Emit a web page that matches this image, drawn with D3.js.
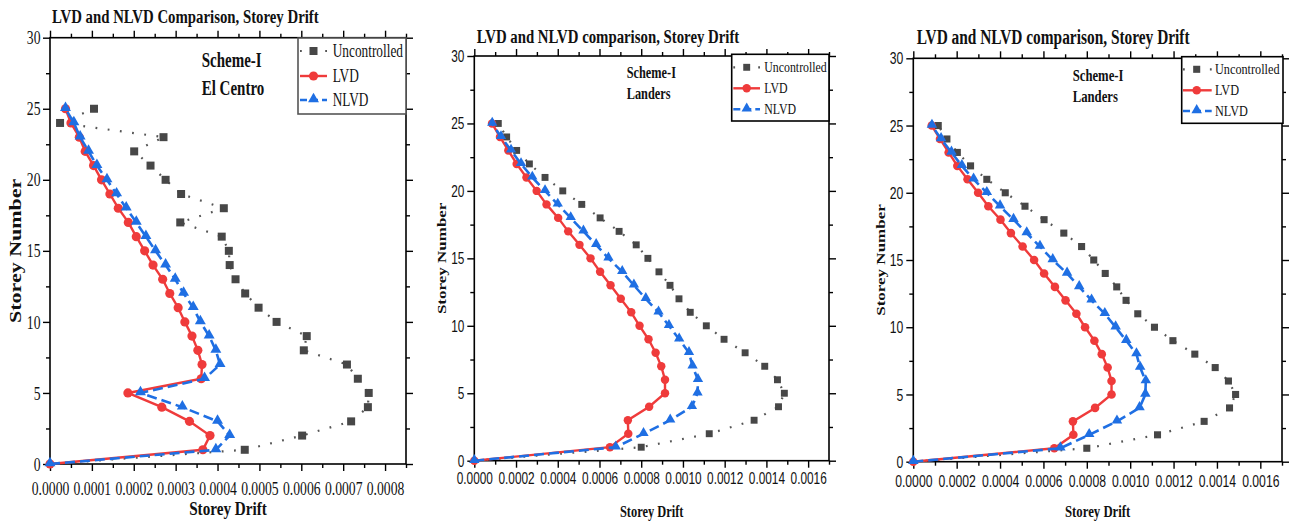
<!DOCTYPE html>
<html>
<head>
<meta charset="utf-8">
<script src="https://cdn.jsdelivr.net/npm/d3@7"></script>
<style>
  body { margin: 0; background: #fff; }
  svg { display: block; }
</style>
</head>
<body>
<svg id="chart" width="1289" height="523"></svg>
<script>
// ---- data -------------------------------------------------------------
const storeys = [0, 1, 2, 3, 4, 5, 6, 7, 8, 9, 10, 11, 12, 13, 14, 15, 16, 17, 18, 19, 20, 21, 22, 23, 24, 25];

// El Centro, Scheme-I (storey drift, storey 0 .. 25)
const elCentroUncontrolled = [0, 0.000465, 0.000602, 0.000719, 0.000759, 0.000761, 0.000735, 0.000709, 0.000606, 0.000613, 0.000541, 0.000498, 0.000466, 0.000443, 0.000429, 0.000427, 0.000410, 0.000311, 0.000415, 0.000313, 0.000276, 0.000240, 0.000201, 0.000271, 0.000024, 0.000105];
const elCentroLVD = [0, 0.000365, 0.000382, 0.000333, 0.000267, 0.000186, 0.000361, 0.000363, 0.000353, 0.000339, 0.000322, 0.000306, 0.000286, 0.000269, 0.000246, 0.000226, 0.000206, 0.000187, 0.000163, 0.000143, 0.000123, 0.000104, 0.000084, 0.000070, 0.000050, 0.000037];
const elCentroNLVD = [0, 0.000396, 0.000429, 0.000400, 0.000316, 0.000216, 0.000369, 0.000406, 0.000396, 0.000380, 0.000359, 0.000342, 0.000319, 0.000299, 0.000276, 0.000252, 0.000229, 0.000206, 0.000182, 0.000159, 0.000136, 0.000112, 0.000092, 0.000072, 0.000057, 0.000037];

// Landers, Scheme-I
const landersUncontrolled = [0, 0.000800, 0.001126, 0.001341, 0.001458, 0.001486, 0.001453, 0.001392, 0.001298, 0.001197, 0.001112, 0.001035, 0.000981, 0.000938, 0.000885, 0.000832, 0.000776, 0.000694, 0.000603, 0.000515, 0.000424, 0.000339, 0.000264, 0.000203, 0.000155, 0.000115];
const landersLVD = [0, 0.000650, 0.000738, 0.000736, 0.000838, 0.000914, 0.000914, 0.000896, 0.000869, 0.000835, 0.000792, 0.000752, 0.000702, 0.000653, 0.000603, 0.000557, 0.000504, 0.000450, 0.000402, 0.000346, 0.000299, 0.000250, 0.000203, 0.000163, 0.000123, 0.000085];
const landersNLVD = [0, 0.000678, 0.000811, 0.000939, 0.001043, 0.001070, 0.001072, 0.001046, 0.001029, 0.000982, 0.000933, 0.000883, 0.000822, 0.000765, 0.000709, 0.000643, 0.000584, 0.000523, 0.000462, 0.000400, 0.000339, 0.000278, 0.000224, 0.000176, 0.000128, 0.000086];

const seriesNames = ["Uncontrolled", "LVD", "NLVD"];

// tick labels
const xTicksElCentro = [0, 0.0001, 0.0002, 0.0003, 0.0004, 0.0005, 0.0006, 0.0007, 0.0008];
const xTicksLanders = [0, 0.0002, 0.0004, 0.0006, 0.0008, 0.0010, 0.0012, 0.0014, 0.0016];
const yTicks = [0, 5, 10, 15, 20, 25, 30];
const yMinorTicks = [2.5, 7.5, 12.5, 17.5, 22.5, 27.5];

// ---- styling ----------------------------------------------------------
const SERIF = "'Liberation Serif', 'Times New Roman', serif";
const SANS = "'Liberation Sans', Arial, sans-serif";
const RED = "#EF3B3B";
const BLUE = "#1F6FE3";
const GREY = "#474747";

const svg = d3.select("#chart");
svg.append("rect").attr("width", 1289).attr("height", 523).attr("fill", "#fff");

// text drawn with a horizontal squeeze (narrow lettering)
function label(g, str, x, y, o) {
  let tf = `translate(${x},${y}) scale(${o.sx},1)`;
  if (o.rotate) tf += ` rotate(${o.rotate})`;
  return g.append("text")
    .text(str)
    .attr("font-family", o.family)
    .attr("font-size", o.size)
    .attr("font-weight", o.bold ? "bold" : "normal")
    .attr("text-anchor", o.anchor || "start")
    .attr("fill", "#111")
    .attr("transform", tf);
}

const fmt = d3.format(".4f");

function drawPanel(cfg) {
  const g = svg.append("g");
  const x = d3.scaleLinear().domain([0, cfg.xMax]).range([cfg.left, cfg.right]);
  const y = d3.scaleLinear().domain([0, 30]).range([cfg.bottom, cfg.top]);
  const xMinor = d3.range(cfg.xMinorStep, cfg.xMax + 1e-12, cfg.xMinorStep)
    .filter(v => !cfg.xTicks.some(t => Math.abs(t - v) < 1e-12));

  const MAJ = 7, MIN = 4;
  const styleTicks = sel => {
    sel.select(".domain").remove();
    sel.selectAll(".tick line").attr("stroke", "#000").attr("stroke-width", 1.4);
  };

  // bottom
  const gb = g.append("g").attr("transform", `translate(0,${cfg.bottom})`)
    .call(d3.axisBottom(x).tickValues(cfg.xTicks).tickSize(MAJ).tickSizeOuter(0).tickFormat(fmt));
  styleTicks(gb);
  gb.selectAll(".tick text")
    .attr("y", null).attr("dy", null)
    .attr("fill", "#111")
    .attr("font-family", cfg.tickFamily).attr("font-size", cfg.tickSize)
    .attr("transform", `translate(0,${cfg.xLabelOffset}) scale(${cfg.tickSx},1)`);
  g.append("g").attr("transform", `translate(0,${cfg.bottom})`)
    .call(d3.axisBottom(x).tickValues(xMinor).tickSize(MIN).tickSizeOuter(0).tickFormat(""))
    .call(styleTicks);

  // top (mirror)
  g.append("g").attr("transform", `translate(0,${cfg.top})`)
    .call(d3.axisTop(x).tickValues(cfg.xTicks).tickSize(MAJ).tickSizeOuter(0).tickFormat(""))
    .call(styleTicks);
  g.append("g").attr("transform", `translate(0,${cfg.top})`)
    .call(d3.axisTop(x).tickValues(xMinor).tickSize(MIN).tickSizeOuter(0).tickFormat(""))
    .call(styleTicks);

  // left
  const gl = g.append("g").attr("transform", `translate(${cfg.left},0)`)
    .call(d3.axisLeft(y).tickValues(yTicks).tickSize(MAJ).tickSizeOuter(0).tickFormat(d3.format("d")));
  styleTicks(gl);
  gl.selectAll(".tick text")
    .attr("x", null).attr("dy", "0.34em")
    .attr("fill", "#111")
    .attr("font-family", cfg.tickFamily).attr("font-size", cfg.tickSize)
    .attr("transform", `translate(${-cfg.yLabelGap},0) scale(${cfg.tickSx},1)`);
  g.append("g").attr("transform", `translate(${cfg.left},0)`)
    .call(d3.axisLeft(y).tickValues(yMinorTicks).tickSize(MIN).tickSizeOuter(0).tickFormat(""))
    .call(styleTicks);

  // right (mirror)
  g.append("g").attr("transform", `translate(${cfg.right},0)`)
    .call(d3.axisRight(y).tickValues(yTicks).tickSize(MAJ).tickSizeOuter(0).tickFormat(""))
    .call(styleTicks);
  g.append("g").attr("transform", `translate(${cfg.right},0)`)
    .call(d3.axisRight(y).tickValues(yMinorTicks).tickSize(MIN).tickSizeOuter(0).tickFormat(""))
    .call(styleTicks);

  // frame
  g.append("rect")
    .attr("x", cfg.left).attr("y", cfg.top)
    .attr("width", cfg.right - cfg.left).attr("height", cfg.bottom - cfg.top)
    .attr("fill", "none").attr("stroke", "#000").attr("stroke-width", 1.6);

  // series
  const pts = vals => storeys.map((s, i) => ({ s, v: vals[i] }));
  const line = d3.line().x(d => x(d.v)).y(d => y(d.s));
  const plot = g.append("g");

  const unc = pts(cfg.data[0]);
  plot.append("path").datum(unc).attr("d", line)
    .attr("fill", "none").attr("stroke", "#555").attr("stroke-width", 2.2)
    .attr("stroke-dasharray", "1.8,10.5");
  plot.selectAll(".sq").data(unc.slice(1)).join("path")
    .attr("d", d3.symbol(d3.symbolSquare, cfg.sqSize))
    .attr("transform", d => `translate(${x(d.v)},${y(d.s)})`)
    .attr("fill", GREY);

  const lvd = pts(cfg.data[1]);
  plot.append("path").datum(lvd).attr("d", line)
    .attr("fill", "none").attr("stroke", RED).attr("stroke-width", 2.4);
  plot.selectAll(".ci").data(lvd).join("path")
    .attr("d", d3.symbol(d3.symbolCircle, cfg.ciSize))
    .attr("transform", d => `translate(${x(d.v)},${y(d.s)})`)
    .attr("fill", RED);

  const nlvd = pts(cfg.data[2]);
  plot.append("path").datum(nlvd).attr("d", line)
    .attr("fill", "none").attr("stroke", BLUE).attr("stroke-width", 2.6)
    .attr("stroke-dasharray", "10,5");
  plot.selectAll(".tr").data(nlvd).join("path")
    .attr("d", d3.symbol(d3.symbolTriangle, cfg.trSize))
    .attr("transform", d => `translate(${x(d.v)},${y(d.s) - 0.8})`)
    .attr("fill", BLUE);

  // legend
  const L = cfg.legend;
  const lg = g.append("g");
  lg.append("rect").attr("x", L.x0).attr("y", L.y0)
    .attr("width", L.x1 - L.x0).attr("height", L.y1 - L.y0)
    .attr("fill", "#fff").attr("stroke", L.stroke).attr("stroke-width", 1.6);
  L.rows.forEach((ry, i) => {
    const len = L.lx2 - L.lx1;
    if (i === 0) {
      lg.append("line").attr("x1", L.lx1).attr("x2", L.lx2).attr("y1", ry).attr("y2", ry)
        .attr("stroke", "#555").attr("stroke-width", 2.2).attr("stroke-dasharray", `1.8,${len - 3.6}`);
      lg.append("path").attr("d", d3.symbol(d3.symbolSquare, cfg.sqSize)())
        .attr("transform", `translate(${L.cx},${ry})`).attr("fill", GREY);
    } else if (i === 1) {
      lg.append("line").attr("x1", L.lx1).attr("x2", L.lx2).attr("y1", ry).attr("y2", ry)
        .attr("stroke", RED).attr("stroke-width", 2.4);
      lg.append("path").attr("d", d3.symbol(d3.symbolCircle, cfg.ciSize)())
        .attr("transform", `translate(${L.cx},${ry})`).attr("fill", RED);
    } else {
      lg.append("line").attr("x1", L.lx1).attr("x2", L.lx2).attr("y1", ry).attr("y2", ry)
        .attr("stroke", BLUE).attr("stroke-width", 2.6).attr("stroke-dasharray", "7,4");
      lg.append("path").attr("d", d3.symbol(d3.symbolTriangle, cfg.trSize)())
        .attr("transform", `translate(${L.cx},${ry - 0.8})`).attr("fill", BLUE);
    }
    label(lg, seriesNames[i], L.tx, ry + L.baseShift, { family: SERIF, size: L.size, sx: L.sx });
  });

  // titles and annotations
  label(g, cfg.title, cfg.titleX, cfg.titleY, { family: SERIF, size: cfg.titleSize, bold: true, sx: cfg.titleSx });
  cfg.notes.forEach((n, i) =>
    label(g, n, cfg.noteX, cfg.noteY[i], { family: SERIF, size: cfg.noteSize, bold: true, sx: cfg.noteSx }));
  label(g, "Storey Drift", (cfg.left + cfg.right) / 2, cfg.xTitleY,
    { family: SERIF, size: cfg.xTitleSize, bold: true, sx: cfg.xTitleSx, anchor: "middle" });
  label(g, "Storey Number", cfg.yTitleX, (cfg.top + cfg.bottom) / 2,
    { family: SERIF, size: cfg.yTitleSize, bold: true, sx: 0.78, anchor: "middle", rotate: -90 });
}

// ---- panels -------------------------------------------------------------
drawPanel({
  left: 50, right: 406, top: 37.7, bottom: 464,
  xMax: 0.00085, xTicks: xTicksElCentro, xMinorStep: 0.00005,
  tickFamily: SERIF, tickSize: 18, tickSx: 0.76, xLabelOffset: 31, yLabelGap: 9.5,
  data: [elCentroUncontrolled, elCentroLVD, elCentroNLVD],
  sqSize: 64, ciSize: 66, trSize: 52,
  title: "LVD and NLVD Comparison, Storey Drift", titleX: 52, titleY: 22.5, titleSize: 19, titleSx: 0.78,
  notes: ["Scheme-I", "El Centro"], noteX: 201.7, noteY: [66.7, 95], noteSize: 20, noteSx: 0.75,
  xTitleY: 515, xTitleSize: 19, xTitleSx: 0.8,
  yTitleX: 20.5, yTitleSize: 22,
  legend: { x0: 298, y0: 38, x1: 406, y1: 114, stroke: "#555", rows: [51, 76, 100],
            lx1: 300, lx2: 327, cx: 313.5, tx: 332.7, size: 18, sx: 0.74, baseShift: 6 }
});

drawPanel({
  left: 474.3, right: 829, top: 56, bottom: 460.7,
  xMax: 0.0017, xTicks: xTicksLanders, xMinorStep: 0.0001,
  tickFamily: SANS, tickSize: 16, tickSx: 0.74, xLabelOffset: 23, yLabelGap: 10,
  data: [landersUncontrolled, landersLVD, landersNLVD],
  sqSize: 48, ciSize: 56, trSize: 46,
  title: "LVD and NLVD comparison, Storey Drift", titleX: 476.7, titleY: 42.7, titleSize: 19, titleSx: 0.78,
  notes: ["Scheme-I", "Landers"], noteX: 626.7, noteY: [78.3, 99.3], noteSize: 16, noteSx: 0.77,
  xTitleY: 516.5, xTitleSize: 17, xTitleSx: 0.73,
  yTitleX: 446, yTitleSize: 17,
  legend: { x0: 731.7, y0: 54.3, x1: 829, y1: 121, stroke: "#000", rows: [67.3, 88.3, 109.3],
            lx1: 733.3, lx2: 760, cx: 746.7, tx: 764.3, size: 15, sx: 0.79, baseShift: 5 }
});

drawPanel({
  left: 913.3, right: 1282, top: 58.3, bottom: 461.7,
  xMax: 0.0017, xTicks: xTicksLanders, xMinorStep: 0.0001,
  tickFamily: SANS, tickSize: 16.5, tickSx: 0.74, xLabelOffset: 25, yLabelGap: 10,
  data: [landersUncontrolled, landersLVD, landersNLVD],
  sqSize: 50, ciSize: 58, trSize: 48,
  title: "LVD and NLVD comparison, Storey Drift", titleX: 916.7, titleY: 44, titleSize: 20, titleSx: 0.77,
  notes: ["Scheme-I", "Landers"], noteX: 1072.7, noteY: [80.7, 101.7], noteSize: 16.5, noteSx: 0.77,
  xTitleY: 516.5, xTitleSize: 17.5, xTitleSx: 0.73,
  yTitleX: 884.5, yTitleSize: 17,
  legend: { x0: 1181.7, y0: 56.7, x1: 1283, y1: 123.3, stroke: "#000", rows: [69.3, 90.3, 111],
            lx1: 1183, lx2: 1211.7, cx: 1196.7, tx: 1215, size: 15.5, sx: 0.79, baseShift: 5 }
});
</script>
</body>
</html>
